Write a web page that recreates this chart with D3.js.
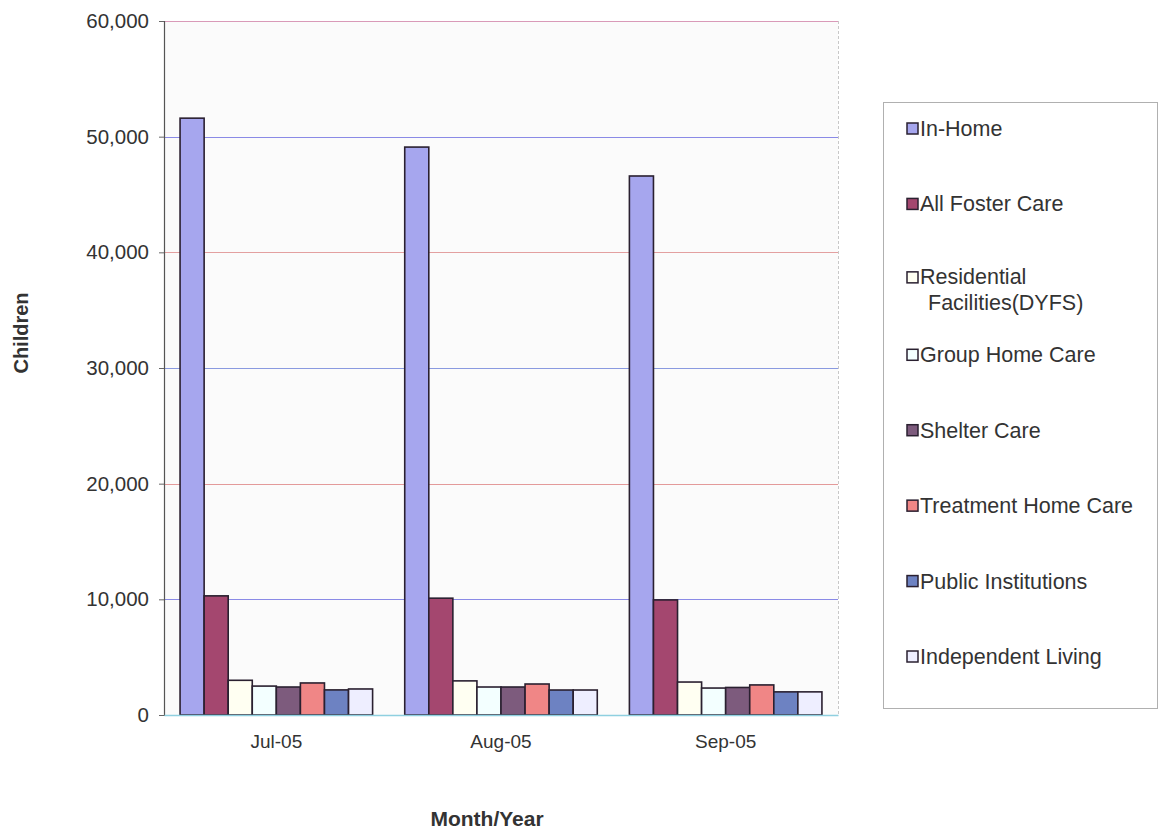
<!DOCTYPE html>
<html>
<head>
<meta charset="utf-8">
<script src="https://cdn.jsdelivr.net/npm/d3@7"></script>
<style>
  html, body { margin: 0; padding: 0; background: #ffffff; }
  svg { display: block; }
  text { font-family: "Liberation Sans", Arial, sans-serif; fill: #333; }
</style>
</head>
<body>
<svg id="chart" width="1161" height="830"></svg>
<script>
// Children by placement type, monthly
const months = ["Jul-05", "Aug-05", "Sep-05"];
const seriesNames = [
  "In-Home", "All Foster Care", "Residential Facilities(DYFS)", "Group Home Care",
  "Shelter Care", "Treatment Home Care", "Public Institutions", "Independent Living"
];
const inHome       = [51600, 49100, 46600];
const fosterCare   = [10300, 10100, 9950];
const residential  = [3000, 2950, 2850];
const groupHome    = [2500, 2420, 2330];
const shelter      = [2420, 2420, 2380];
const treatment    = [2770, 2680, 2600];
const institutions = [2170, 2160, 2000];
const independent  = [2250, 2160, 2000];
const yTicks = [0, 10000, 20000, 30000, 40000, 50000, 60000];

const seriesValues = [inHome, fosterCare, residential, groupHome, shelter, treatment, institutions, independent];
const colors = ["#a6a6ee", "#a4476f", "#fffff2", "#f3ffff", "#7d5b7d", "#f08686", "#6d82c2", "#eeeeff"];
const gridColors = ["#9db8d8", "#8a8ae6", "#e39a9a", "#8a9ae0", "#e3a0a0", "#8a8ae6", "#d99ab8"];

const svg = d3.select("#chart");
const plot = { left: 164, right: 838, top: 21, bottom: 715 };

const x0 = d3.scaleBand().domain(months).range([plot.left, plot.right])
  .paddingInner(0.143).paddingOuter(0.0715);
const x1 = d3.scaleBand().domain(seriesNames).range([0, x0.bandwidth()]);
const y = d3.scaleLinear().domain([0, 60000]).range([plot.bottom, plot.top]);

// plot area background
svg.append("rect")
  .attr("x", plot.left).attr("y", plot.top)
  .attr("width", plot.right - plot.left).attr("height", plot.bottom - plot.top)
  .attr("fill", "#fbfbfb").attr("stroke", "none");

// horizontal gridlines
svg.append("g").selectAll("line").data(yTicks.slice(1)).join("line")
  .attr("x1", plot.left).attr("x2", plot.right)
  .attr("y1", d => Math.round(y(d)) + 0.5).attr("y2", d => Math.round(y(d)) + 0.5)
  .attr("stroke", (d, i) => gridColors[i + 1]).attr("stroke-width", 1.2);

// right border of plot area
svg.append("line")
  .attr("x1", plot.right + 0.5).attr("x2", plot.right + 0.5)
  .attr("y1", plot.top).attr("y2", plot.bottom)
  .attr("stroke", "#c8c8c8").attr("stroke-width", 1).attr("stroke-dasharray", "3,2");

// bars
const groups = svg.append("g").selectAll("g").data(months).join("g")
  .attr("transform", d => `translate(${x0(d)},0)`);
groups.selectAll("rect")
  .data((m, mi) => seriesNames.map((s, si) => ({ s, si, v: seriesValues[si][mi] })))
  .join("rect")
  .attr("x", d => x1(d.s))
  .attr("y", d => y(d.v))
  .attr("width", x1.bandwidth())
  .attr("height", d => y(0) - y(d.v))
  .attr("fill", d => colors[d.si])
  .attr("stroke", "#2a2030").attr("stroke-width", 1.6);

// y axis
const yAxis = svg.append("g")
  .attr("transform", `translate(${plot.left},0)`)
  .call(d3.axisLeft(y).tickValues(yTicks).tickFormat(d3.format(",")).tickSize(5).tickPadding(10));
yAxis.select(".domain").attr("stroke", "#555").attr("stroke-width", 1.2);
yAxis.selectAll(".tick line").attr("stroke", "#666");
yAxis.selectAll(".tick text").attr("font-size", 20.5).attr("fill", "#333")
  .attr("font-family", "'Liberation Sans', Arial, sans-serif");

// x axis
const xAxis = svg.append("g")
  .attr("transform", `translate(0,${plot.bottom})`)
  .call(d3.axisBottom(x0).tickSize(0).tickPadding(20));
xAxis.select(".domain").attr("stroke", "#8fd0e0").attr("stroke-width", 1.5);
xAxis.selectAll(".tick text").attr("font-size", 19).attr("fill", "#333")
  .attr("font-family", "'Liberation Sans', Arial, sans-serif");

// axis titles
svg.append("text")
  .attr("transform", "translate(28,333) rotate(-90)")
  .attr("text-anchor", "middle")
  .attr("font-size", 20).attr("font-weight", "bold").attr("fill", "#222")
  .text("Children");
svg.append("text")
  .attr("x", 487).attr("y", 826)
  .attr("text-anchor", "middle")
  .attr("font-size", 21).attr("font-weight", "bold").attr("fill", "#222")
  .text("Month/Year");

// legend
const legend = svg.append("g");
legend.append("rect")
  .attr("x", 883.5).attr("y", 102.5).attr("width", 274).attr("height", 606)
  .attr("fill", "#ffffff").attr("stroke", "#b0b0b0").attr("stroke-width", 1);
const legendY = d3.scalePoint().domain(seriesNames).range([129, 657]);
const items = legend.selectAll("g.item").data(seriesNames).join("g")
  .attr("class", "item")
  .attr("transform", d => `translate(907,${legendY(d)})`);
items.append("rect")
  .attr("x", 0).attr("y", d => d.startsWith("Residential") ? -8 : -6)
  .attr("width", 11).attr("height", 11)
  .attr("fill", (d, i) => colors[i]).attr("stroke", "#2a2030").attr("stroke-width", 1.5);
items.each(function (d) {
  const g = d3.select(this);
  const m = d.match(/^(Residential) (Facilities\(DYFS\))$/);
  const t = g.append("text").attr("x", 13).attr("y", 7).attr("font-size", 21.5).attr("fill", "#333");
  if (m) {
    t.attr("y", 4).text(m[1]);
    g.append("text").attr("x", 21).attr("y", 30).attr("font-size", 21.5).attr("fill", "#333").text(m[2]);
  } else {
    t.text(d);
  }
});
</script>
</body>
</html>
